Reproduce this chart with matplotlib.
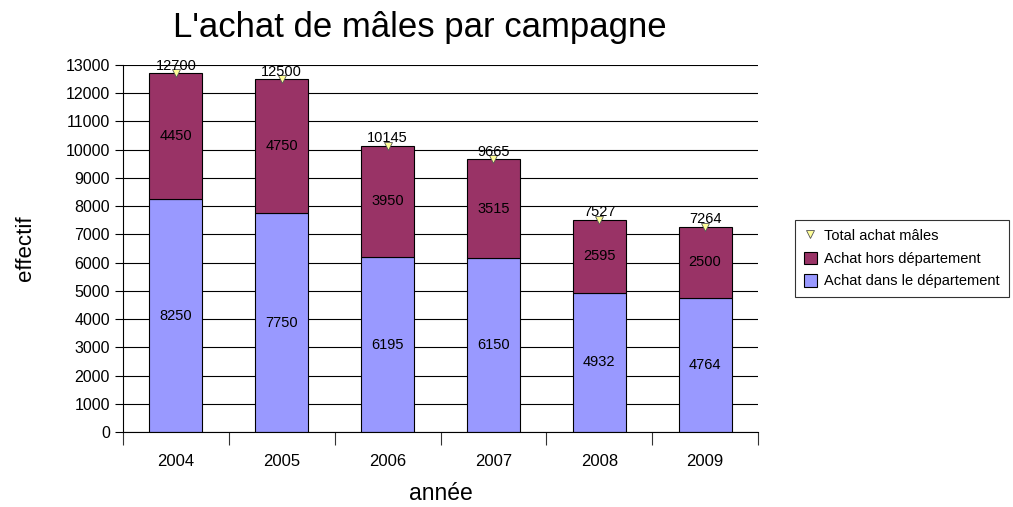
import matplotlib
matplotlib.use("Agg")
import matplotlib.pyplot as plt
import numpy as np

plt.rcParams['font.family'] = ['Liberation Sans', 'DejaVu Sans']

years = ["2004", "2005", "2006", "2007", "2008", "2009"]
dans_dept = [8250, 7750, 6195, 6150, 4932, 4764]
hors_dept = [4450, 4750, 3950, 3515, 2595, 2500]
totals = [12700, 12500, 10145, 9665, 7527, 7264]

W, H = 1013, 507
fig = plt.figure(figsize=(W / 100, H / 100), dpi=100)
ax = fig.add_axes([123 / W, 1 - 432 / H, (758 - 123) / W, (432 - 65) / H])

x = np.arange(len(years))
bw = 0.5
b_dans = ax.bar(x, dans_dept, bw, color="#9999FF", edgecolor="black", linewidth=0.8,
                label="Achat dans le département", zorder=2)
b_hors = ax.bar(x, hors_dept, bw, bottom=dans_dept, color="#993366", edgecolor="black",
                linewidth=0.8, label="Achat hors département", zorder=2)
l_tot, = ax.plot(x, totals, linestyle="none", marker="v", markersize=6,
                 markerfacecolor="#FFFF99", markeredgecolor="#555555",
                 markeredgewidth=0.6, label="Total achat mâles", zorder=3)

for i in range(len(years)):
    ax.text(x[i], dans_dept[i] / 2, str(dans_dept[i]), ha="center", va="center",
            fontsize=10.5, zorder=4)
    ax.text(x[i], dans_dept[i] + hors_dept[i] / 2, str(hors_dept[i]),
            ha="center", va="center", fontsize=10.5, zorder=4)
    ax.text(x[i], totals[i] + 20, str(totals[i]), ha="center", va="bottom",
            fontsize=10.5, zorder=4)

ax.set_xlim(-0.5, len(years) - 0.5)
ax.set_ylim(0, 13000)
ax.set_yticks(np.arange(0, 13001, 1000))
ax.yaxis.grid(True, color="black", linewidth=0.8, zorder=0)
ax.set_axisbelow(True)

ax.set_xticks(x)
ax.set_xticklabels(years, fontsize=12)
ax.set_xticks(np.arange(-0.5, len(years), 1.0), minor=True)
ax.tick_params(axis="x", which="major", length=0, pad=16)
ax.tick_params(axis="x", which="minor", length=9, width=0.8, color="#333333")
ax.tick_params(axis="y", labelsize=11.5, length=6, width=0.8)

for side in ("top", "right"):
    ax.spines[side].set_visible(False)
ax.spines["left"].set_linewidth(0.8)
ax.spines["bottom"].set_linewidth(0.8)

ax.set_ylabel("effectif", fontsize=16, va="center")
ax.yaxis.set_label_coords(-(123 - 25) / (758 - 123), 0.5)
ax.set_xlabel("année", fontsize=16.5, va="center")
ax.xaxis.set_label_coords(0.5, -(494 - 432) / (432 - 65))
fig.text(420 / W, 1 - 27 / H, "L'achat de mâles par campagne", ha="center",
         va="center", fontsize=25)

leg = fig.legend([l_tot, b_hors, b_dans],
                 ["Total achat mâles", "Achat hors département", "Achat dans le département"],
                 loc="upper left", bbox_to_anchor=(795 / W, 1 - 220 / H),
                 fontsize=10.5, frameon=True, fancybox=False, edgecolor="black",
                 handlelength=0.9, handleheight=0.9, borderpad=0.6,
                 labelspacing=0.6, handletextpad=0.5, borderaxespad=0)
leg.get_frame().set_linewidth(0.8)

fig.savefig("out.png", dpi=100)
